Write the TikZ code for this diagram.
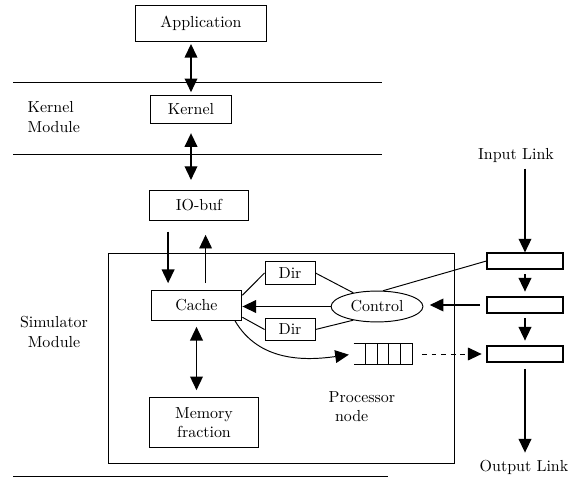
\documentclass[tikz,border=0pt]{standalone}
\usetikzlibrary{arrows.meta,shapes.geometric}

\begin{document}
\begin{tikzpicture}[x=0.022cm, y=-0.022cm, every node/.style={font=\normalsize}, >={Triangle[length=3mm,width=2.8mm]},
  box/.style={draw, semithick, inner sep=1pt},
  linkbox/.style={draw, thick, minimum width=1.67cm, minimum height=0.35cm}]
\useasboundingbox (0,0) rectangle (568,479);
% layer lines
\draw[semithick] (13,82) -- (382,82);
\draw[semithick] (13,154) -- (382,154);
\draw[semithick] (13,476) -- (388,476);
\node[align=left, anchor=west] (kmod) at (22,117) {Kernel\\Module};
\node[align=center] (smod) at (54,332) {Simulator\\Module};
% processor node
\node[draw, semithick, minimum width=7.63cm, minimum height=4.6cm] (proc) at (281.5,358.5) {};
\node[align=left, anchor=west] (plabel) at (323,407) {Processor\\\hspace{0.4em}node};
\node[box, minimum width=2.9cm, minimum height=0.81cm] (app) at (201,23.5) {Application};
\node[box, minimum width=1.8cm, minimum height=0.6cm] (kern) at (191,109.5) {Kernel};
\node[box, minimum width=2.16cm, minimum height=0.66cm] (iobuf) at (199,205) {IO-buf};
\node[box, minimum width=2.0cm, minimum height=0.66cm] (cache) at (196.5,305) {Cache};
\node[box, minimum width=1.1cm, minimum height=0.49cm] (dira) at (290,273) {Dir};
\node[box, minimum width=1.1cm, minimum height=0.49cm] (dirb) at (290,329.5) {Dir};
\node[draw, semithick, ellipse, inner sep=1pt, minimum width=2.02cm, minimum height=0.68cm] (ctrl) at (377,306.5) {Control};
\node[box, align=center, minimum width=2.38cm, minimum height=1.12cm] (mem) at (204,422.5) {Memory\\fraction};
\node[minimum width=1.28cm, minimum height=0.44cm, inner sep=0pt] (fifo) at (383,354) {};
\draw[semithick] (fifo.north west) -- (fifo.north east) -- (fifo.south east) -- (fifo.south west);
\foreach \xx in {365,377,388,400} \draw[semithick] (\xx,344) -- (\xx,364);
% links
\node[linkbox] (inq) at (525,261) {};
\node[linkbox] (mid) at (525,305) {};
\node[linkbox] (outq) at (525,354) {};
\node (inl) at (516,156) {Input Link};
\node (outl) at (524,467) {Output Link};
% arrows
\draw[<->,thick,shorten <=1pt,shorten >=2pt] (app.south -| kern.north) -- (kern.north);
\draw[<->,thick,shorten <=6pt,shorten >=6pt] (kern.south) -- (kern.south |- iobuf.north);
\draw[->,thick,shorten <=7pt,shorten >=4pt] ([xshift=-0.68cm]iobuf.south) -- ([xshift=-0.68cm]iobuf.south |- cache.north);
\draw[->,semithick,shorten <=4pt,shorten >=9pt] ([xshift=0.2cm]cache.north) -- ([xshift=0.2cm]cache.north |- iobuf.south);
\draw[->,thick] (ctrl.west) -- (ctrl.west -| cache.east);
\draw[->,thick,shorten <=4pt,shorten >=4pt] (mid.west) -- (mid.west -| ctrl.east);
\draw[semithick] (inq.west) -- (ctrl.69);
\draw[semithick] (dira.east) -- (ctrl.150);
\draw[semithick] (dirb.east) -- (ctrl.210);
\draw[semithick] (cache.12) -- (dira.west);
\draw[semithick] (cache.345) -- (dirb.west);
\draw[->,semithick,shorten >=3pt] (cache.338) to[out=-60,in=188] (fifo.west);
\draw[->,semithick,dashed,shorten <=6pt,shorten >=3pt] (fifo.east) -- (outq.west);
\draw[<->,thick,shorten <=4pt,shorten >=4pt] (cache.south) -- (cache.south |- mem.north);
\draw[->,thick] (inq.north |- inl.south) -- (inq.north);
\draw[->,thick,shorten <=3pt,shorten >=3pt] (inq) -- (mid);
\draw[->,thick,shorten <=3pt,shorten >=3pt] (mid) -- (outq);
\draw[->,thick,shorten <=4pt,shorten >=1pt] (outq.south) -- (outq.south |- outl.north);
\end{tikzpicture}
\end{document}
